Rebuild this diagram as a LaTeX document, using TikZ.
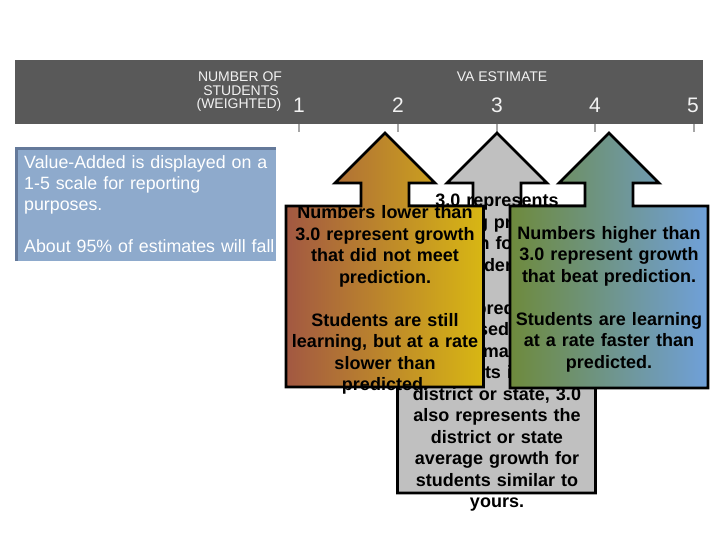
\documentclass[tikz,border=0pt]{standalone}
\usepackage{fontspec}
\setmainfont{Liberation Sans}
\definecolor{hdrgray}{HTML}{595959}
\definecolor{hdrtext}{HTML}{F2F2F2}
\definecolor{tickgray}{HTML}{A6A6A6}
\definecolor{infofill}{HTML}{8EAACC}
\definecolor{infoedge}{HTML}{64799A}
\definecolor{lowleft}{HTML}{A25842}
\definecolor{lowright}{HTML}{D8B713}
\definecolor{meetfill}{HTML}{C0C0C0}
\definecolor{highleft}{HTML}{6E8A3C}
\definecolor{highright}{HTML}{6FA0DA}
\tikzset{
  hdrlabel/.style={text=hdrtext, inner sep=0pt, anchor=base, font=\fontsize{14}{14}\selectfont},
  scalenum/.style={text=hdrtext, inner sep=0pt, anchor=base, font=\fontsize{21}{21}\selectfont},
  tickmark/.style={draw=tickgray, line width=2pt},
  calloutshape/.style={draw=black, line width=2.8pt, line join=miter},
  callouttext/.style={inner sep=0pt, text width=200pt, align=center, font=\bfseries\fontsize{18}{21.5}\selectfont}
}

\begin{document}
\begin{tikzpicture}[x=1pt,y=-1pt]
\useasboundingbox (0,0) rectangle (720,540);
% header bar
\fill[hdrgray] (15,60) rectangle (703,124);
\node[hdrlabel] (numof) at (240,82) {NUMBER OF};
\node[hdrlabel] (students) at (241,95.5) {STUDENTS};
\node[hdrlabel] (weighted) at (239,109) {(WEIGHTED)};
\node[hdrlabel] (vaest) at (502,82) {VA ESTIMATE};
\node[scalenum] (s1) at (299,113) {1};
\node[scalenum] (s2) at (398,113) {2};
\node[scalenum] (s3) at (497,113) {3};
\node[scalenum] (s4) at (595,113) {4};
\node[scalenum] (s5) at (693,113) {5};
\draw[tickmark] (299,124) -- (299,132);
\draw[tickmark] (398,124) -- (398,132);
\draw[tickmark] (497,124) -- (497,132);
\draw[tickmark] (595,124) -- (595,132);
\draw[tickmark] (694,124) -- (694,132);
% info box
\fill[infofill] (15,147) rectangle (276,261);
\draw[infoedge, line width=3pt] (16.5,261) -- (16.5,148.5) -- (276,148.5);
\node[inner sep=0pt, text width=255pt, align=left, anchor=base west, text=white, font=\fontsize{17.8}{21}\selectfont] (info) at (24,169) {Value-Added is displayed on a\\1-5 scale for reporting\\purposes.\\[21pt]About 95\% of estimates will fall};
% meeting prediction (behind)
\draw[calloutshape, fill=meetfill] (497,133) -- (547,183) -- (521,183) -- (521,206) -- (595.5,206) -- (595.5,493) -- (397.5,493) -- (397.5,206) -- (473,206) -- (473,183) -- (447,183) -- cycle;
\node[callouttext] (meettxt) at (497,353) {3.0 represents\\meeting predicted\\growth for your\\students.\\[21.5pt]Since predictions\\are based on the\\performance of\\students in your\\district or state, 3.0\\also represents the\\district or state\\average growth for\\students similar to\\yours.};
% below prediction
\draw[calloutshape, left color=lowleft, right color=lowright] (385,133) -- (435,183) -- (409,183) -- (409,206) -- (483.5,206) -- (483.5,387) -- (286,387) -- (286,206) -- (361,206) -- (361,183) -- (335,183) -- cycle;
\node[callouttext] (lowtxt) at (385,300) {Numbers lower than\\3.0 represent growth\\that did not meet\\prediction.\\[21.5pt]Students are still\\learning, but at a rate\\slower than\\predicted.};
% above prediction
\draw[calloutshape, left color=highleft, right color=highright] (609,133) -- (659,183) -- (633,183) -- (633,206) -- (708,206) -- (708,388) -- (510,388) -- (510,206) -- (585,206) -- (585,183) -- (559,183) -- cycle;
\node[callouttext] (hightxt) at (609,299) {Numbers higher than\\3.0 represent growth\\that beat prediction.\\[21.5pt]Students are learning\\at a rate faster than\\predicted.};
\end{tikzpicture}
\end{document}
